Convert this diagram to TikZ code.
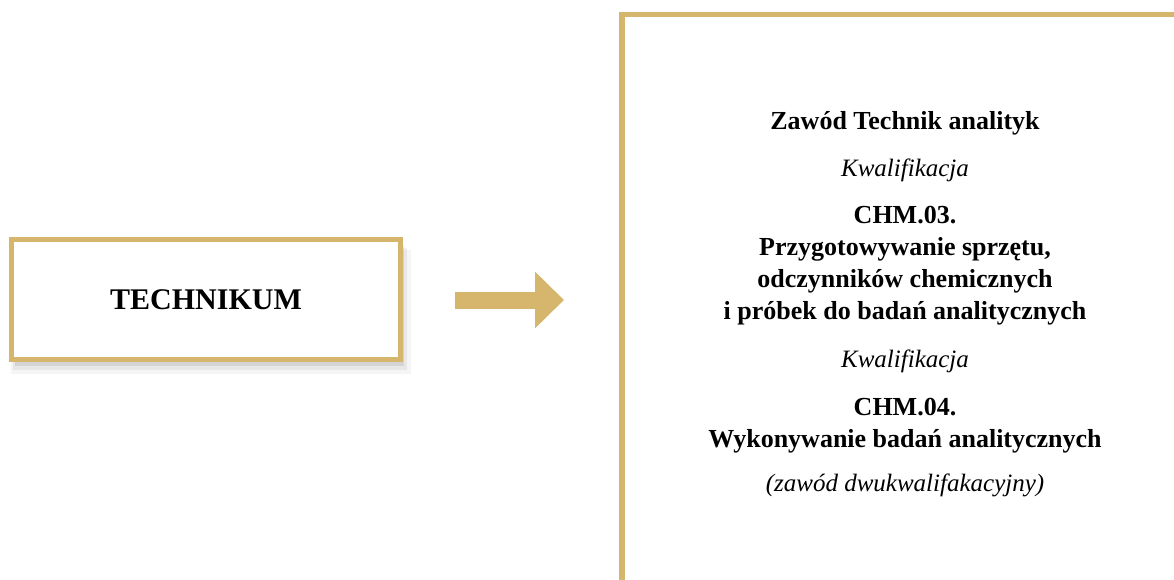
\documentclass[tikz,border=0pt]{standalone}
\usepackage{fontspec}
\setmainfont{Liberation Serif}
\usetikzlibrary{arrows.meta,shadows}
\definecolor{gold}{RGB}{214,181,108}

\begin{document}
\begin{tikzpicture}[x=1pt,y=-1pt,
  frame/.style={draw=gold,line width=5pt,fill=white},
  soft shadow/.style={
    drop shadow={shadow xshift=5pt,shadow yshift=-12pt,opacity=0.08,shadow scale=1.03},
    drop shadow={shadow xshift=4pt,shadow yshift=-9pt,opacity=0.12,shadow scale=1.015},
    drop shadow={shadow xshift=3pt,shadow yshift=-6pt,opacity=0.18}},
  bold/.style={font=\fontsize{26}{32}\selectfont\bfseries,align=center,anchor=base},
  ital/.style={font=\fontsize{25}{30}\selectfont\itshape,anchor=base}]
\useasboundingbox (0,0) rectangle (1174,580);
\clip (0,0) rectangle (1174,580);
\path (206,299.5) node [frame,soft shadow,minimum width=389pt,minimum height=120pt,
  font=\fontsize{30}{36}\selectfont\bfseries] (tech) {TECHNIKUM};
\coordinate (tail) at (455,300);
\coordinate (tip)  at (564,300);
\draw [gold,line width=17pt,-{Triangle[length=29pt,width=55pt]}] (tail) -- (tip);
\draw [gold,line width=5.5pt] (622,620) |- (1200,14.5);
% multi-line nodes sit on the baseline of their last line
\path (905,130) node [bold] (zawod) {Zawód Technik analityk};
\path (905,177) node [ital] (kwal1) {Kwalifikacja};
\path (905,319) node [bold] (chm3)  {CHM.03.\\Przygotowywanie sprzętu,\\odczynników chemicznych\\i próbek do badań analitycznych};
\path (905,367) node [ital] (kwal2) {Kwalifikacja};
\path (905,447) node [bold] (chm4)  {CHM.04.\\Wykonywanie badań analitycznych};
\path (905,491) node [ital] (dwu)   {(zawód dwukwalifakacyjny)};
\end{tikzpicture}
\end{document}
